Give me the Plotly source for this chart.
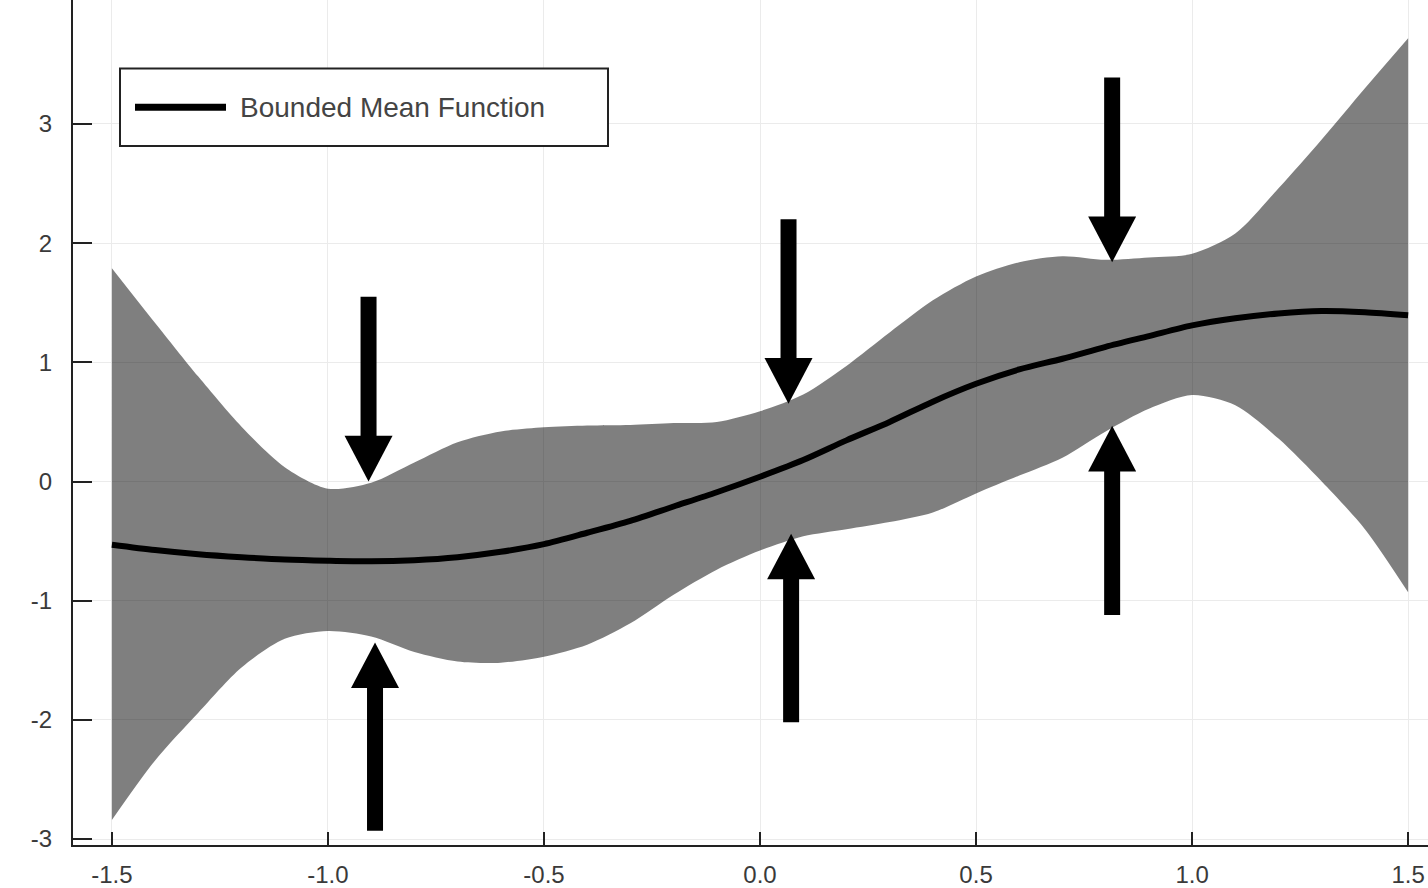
import plotly.graph_objects as go

# ---- data -------------------------------------------------------------
x_vals = [-1.5, -1.4, -1.3, -1.2, -1.1, -1.0, -0.9, -0.8, -0.7, -0.6, -0.5,
          -0.4, -0.3, -0.2, -0.1, 0.0, 0.1, 0.2, 0.3, 0.4, 0.5,
          0.6, 0.7, 0.8, 0.9, 1.0, 1.1, 1.2, 1.3, 1.4, 1.5]
mean_vals = [-0.53, -0.575, -0.61, -0.635, -0.655, -0.665, -0.67, -0.66, -0.635, -0.59, -0.525,
             -0.43, -0.33, -0.21, -0.09, 0.04, 0.18, 0.345, 0.50, 0.67, 0.82,
             0.94, 1.03, 1.13, 1.22, 1.31, 1.37, 1.41, 1.43, 1.42, 1.395]
upper_vals = [1.79, 1.33, 0.88, 0.46, 0.12, -0.06, -0.01, 0.16, 0.33, 0.42, 0.455,
              0.47, 0.475, 0.49, 0.50, 0.59, 0.73, 0.97, 1.25, 1.52, 1.72,
              1.84, 1.89, 1.86, 1.88, 1.91, 2.08, 2.46, 2.87, 3.30, 3.72]
lower_vals = [-2.84, -2.34, -1.94, -1.56, -1.32, -1.255, -1.30, -1.43, -1.51, -1.52, -1.47,
              -1.37, -1.19, -0.95, -0.74, -0.58, -0.46, -0.40, -0.34, -0.26, -0.10,
              0.05, 0.20, 0.42, 0.61, 0.725, 0.64, 0.36, 0.0, -0.40, -0.93]

# arrows: x position, tail y, tip y
arrow_x = [-0.906, -0.891, 0.066, 0.072, 0.815, 0.815]
arrow_tail = [1.55, -2.93, 2.20, -2.02, 3.39, -1.12]
arrow_tip = [0.0, -1.35, 0.653, -0.4375, 1.84, 0.467]

x_ticks = [-1.5, -1.0, -0.5, 0.0, 0.5, 1.0, 1.5]
x_tick_labels = ["-1.5", "-1.0", "-0.5", "0.0", "0.5", "1.0", "1.5"]
y_ticks = [-3, -2, -1, 0, 1, 2, 3]
y_tick_labels = ["-3", "-2", "-1", "0", "1", "2", "3"]
legend_label = "Bounded Mean Function"

# ---- layout geometry --------------------------------------------------
W, H = 1428, 888
ML, MB, MT, MR = 73, 37, 0, 0
x_range = [-1.59, 1.546]
y_range = [-3.05, 4.04]
plot_w = W - ML - MR
plot_h = H - MB - MT
px_per_x = plot_w / (x_range[1] - x_range[0])
px_per_y = plot_h / (y_range[1] - y_range[0])

FONT = "Liberation Sans, Arial, Helvetica, sans-serif"

fig = go.Figure()

# band
fig.add_trace(go.Scatter(x=x_vals, y=upper_vals, mode="lines",
                         line=dict(width=0, shape="spline", smoothing=0.8),
                         hoverinfo="skip", showlegend=False))
fig.add_trace(go.Scatter(x=x_vals, y=lower_vals, mode="lines",
                         line=dict(width=0, shape="spline", smoothing=0.8),
                         fill="tonexty", fillcolor="rgba(0,0,0,0.5)",
                         hoverinfo="skip", showlegend=False))
# mean
fig.add_trace(go.Scatter(x=x_vals, y=mean_vals, mode="lines",
                         line=dict(color="black", width=6, shape="spline", smoothing=0.8),
                         name=legend_label, showlegend=False))

# arrows
head_len = 46 / px_per_y
head_half = 24 / px_per_x
for ax, tail, tip in zip(arrow_x, arrow_tail, arrow_tip):
    d = 1 if tip > tail else -1
    base = tip - d * head_len
    fig.add_trace(go.Scatter(x=[ax, ax], y=[tail, base + d * 0.02], mode="lines",
                             line=dict(color="black", width=16),
                             hoverinfo="skip", showlegend=False))
    fig.add_trace(go.Scatter(x=[ax - head_half, ax + head_half, ax, ax - head_half],
                             y=[base, base, tip, base], mode="lines",
                             fill="toself", fillcolor="black",
                             line=dict(color="black", width=0),
                             hoverinfo="skip", showlegend=False))


def px_x(p):
    return (p - ML) / plot_w


def px_y(p):
    return (H - MB - p) / plot_h


# manual legend
fig.add_shape(type="rect", xref="paper", yref="paper",
              x0=px_x(120), x1=px_x(608), y0=px_y(147), y1=px_y(69),
              line=dict(color="#222222", width=2), fillcolor="white", layer="above")
fig.add_shape(type="line", xref="paper", yref="paper",
              x0=px_x(135), x1=px_x(226), y0=px_y(108), y1=px_y(108),
              line=dict(color="black", width=7), layer="above")
fig.add_annotation(xref="paper", yref="paper", x=px_x(238), y=px_y(108),
                   text=legend_label, showarrow=False, xanchor="left", yanchor="middle",
                   font=dict(family=FONT, size=28, color="#444444"))

fig.update_layout(
    width=W, height=H,
    margin=dict(l=ML, r=MR, t=MT, b=MB, pad=0),
    paper_bgcolor="white", plot_bgcolor="white",
    showlegend=False,
    xaxis=dict(range=x_range, tickvals=x_ticks, ticktext=x_tick_labels,
               showgrid=True, gridcolor="#ebebeb", gridwidth=1, zeroline=False,
               showline=True, linecolor="#222222", linewidth=2,
               ticks="inside", ticklen=13, tickwidth=2, tickcolor="#222222",
               tickfont=dict(family=FONT, size=24, color="#3a3a3a"),
               ticklabelstandoff=7),
    yaxis=dict(range=y_range, tickvals=y_ticks, ticktext=y_tick_labels,
               showgrid=True, gridcolor="#ebebeb", gridwidth=1, zeroline=False,
               showline=True, linecolor="#222222", linewidth=2,
               ticks="inside", ticklen=19, tickwidth=2, tickcolor="#222222",
               tickfont=dict(family=FONT, size=24, color="#3a3a3a"),
               ticklabelstandoff=14),
)

fig.write_html("out.html", config={"displayModeBar": False},
               post_script="document.body.style.margin='0';document.body.style.overflow='hidden';")
